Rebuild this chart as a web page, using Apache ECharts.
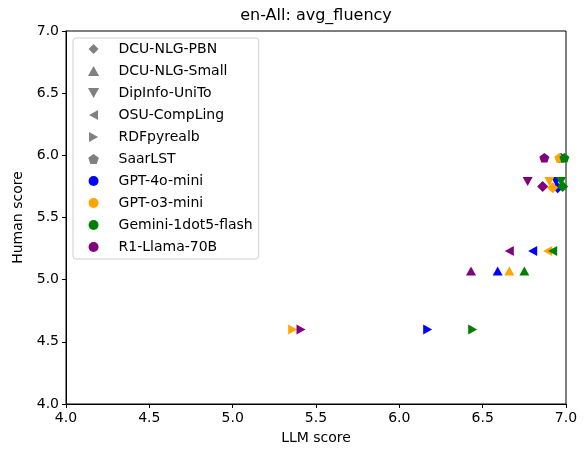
<!DOCTYPE html>
<html>
<head>
<meta charset="utf-8">
<script src="https://cdn.jsdelivr.net/npm/echarts@6/dist/echarts.min.js"></script>
<style>
  html, body { margin: 0; padding: 0; background: #fff; }
  #chart { width: 583px; height: 450px; }
</style>
</head>
<body>
<div id="chart"></div>
<script>
// Evaluator models (colour) and evaluated systems (marker shape)
const llmNames = ['GPT-4o-mini', 'GPT-o3-mini', 'Gemini-1dot5-flash', 'R1-Llama-70B'];
const systemNames = ['DCU-NLG-PBN', 'DCU-NLG-Small', 'DipInfo-UniTo', 'OSU-CompLing', 'RDFpyrealb', 'SaarLST'];

// LLM score / human score per system, in llmNames order
const pbnLLM     = [6.95, 6.92, 6.98, 6.86];
const pbnHuman   = [5.74, 5.74, 5.75, 5.75];
const smallLLM   = [6.59, 6.66, 6.75, 6.43];
const smallHuman = [5.07, 5.07, 5.07, 5.07];
const dipLLM     = [6.94, 6.90, 6.97, 6.77];
const dipHuman   = [5.79, 5.79, 5.79, 5.79];
const osuLLM     = [6.80, 6.89, 6.92, 6.66];
const osuHuman   = [5.23, 5.23, 5.23, 5.23];
const rdfLLM     = [6.17, 5.36, 6.44, 5.41];
const rdfHuman   = [4.60, 4.60, 4.60, 4.60];
const saarLLM    = [6.97, 6.96, 6.99, 6.87];
const saarHuman  = [5.98, 5.98, 5.98, 5.98];

const axisTicks = [4.0, 4.5, 5.0, 5.5, 6.0, 6.5, 7.0];

// Styling
const llmColors = ['#0000ff', '#ffa500', '#008000', '#800080'];
const gray = '#808080';
const shapes = {
  'DCU-NLG-PBN':   { symbol: 'path://M5,0 L10,5 L5,10 L0,5 Z', size: [11, 11], icon: [11, 11] },
  'DCU-NLG-Small': { symbol: 'path://M5,0 L10,9 L0,9 Z', size: [10, 9], icon: [10, 9] },
  'DipInfo-UniTo': { symbol: 'path://M0,0 L10,0 L5,9 Z', size: [10, 9], icon: [10, 9] },
  'OSU-CompLing':  { symbol: 'path://M9,0 L9,10 L0,5 Z', size: [9, 10], icon: [9, 10] },
  'RDFpyrealb':    { symbol: 'path://M0,0 L0,10 L9,5 Z', size: [9, 10], icon: [9, 10] },
  'SaarLST':       { symbol: 'path://M10,0 L19.51,6.91 L15.88,18.09 L4.12,18.09 L0.49,6.91 Z', size: [10, 9.5], icon: [9, 9] }
};
const systemData = {
  'DCU-NLG-PBN':   [pbnLLM, pbnHuman],
  'DCU-NLG-Small': [smallLLM, smallHuman],
  'DipInfo-UniTo': [dipLLM, dipHuman],
  'OSU-CompLing':  [osuLLM, osuHuman],
  'RDFpyrealb':    [rdfLLM, rdfHuman],
  'SaarLST':       [saarLLM, saarHuman]
};

const series = [];
systemNames.forEach(function (name) {
  const xs = systemData[name][0], ys = systemData[name][1];
  series.push({
    name: name,
    type: 'scatter',
    symbol: shapes[name].symbol,
    symbolSize: shapes[name].size,
    itemStyle: { color: gray, opacity: 1 },
    emphasis: { disabled: true },
    data: xs.map(function (x, i) {
      return { value: [x, ys[i]], itemStyle: { color: llmColors[i], opacity: 1 } };
    })
  });
});
llmNames.forEach(function (name, i) {
  series.push({
    name: name,
    type: 'scatter',
    symbol: 'circle',
    itemStyle: { color: llmColors[i], opacity: 1 },
    data: []
  });
});

const legendData = systemNames.map(function (n) {
  return { name: n, icon: shapes[n].symbol, itemStyle: { color: gray, opacity: 1 } };
}).concat(llmNames.map(function (n, i) {
  return { name: n, icon: 'circle', itemStyle: { color: llmColors[i], opacity: 1 } };
}));

const fontFamily = 'DejaVu Sans';
const chart = echarts.init(document.getElementById('chart'), null, { renderer: 'canvas' });
chart.setOption({
  animation: false,
  backgroundColor: '#fff',
  textStyle: { fontFamily: fontFamily },
  title: {
    text: 'en-All: avg_fluency',
    left: 316,
    textAlign: 'center',
    top: 8,
    padding: 0,
    textStyle: { fontFamily: fontFamily, fontSize: 16, fontWeight: 'normal', color: '#000' }
  },
  grid: {
    left: 66, right: 17, top: 31, bottom: 46,
    show: true, borderColor: '#000', borderWidth: 1, backgroundColor: 'transparent'
  },
  legend: {
    orient: 'vertical',
    left: 73,
    top: 38,
    padding: [4, 6, 5, 15],
    itemWidth: 40,
    itemHeight: 10,
    itemGap: 8,
    selectedMode: false,
    borderColor: '#d0d0d0',
    borderWidth: 1,
    borderRadius: 3,
    backgroundColor: 'rgba(255,255,255,0.8)',
    textStyle: { fontFamily: fontFamily, fontSize: 14, color: '#000' },
    data: legendData
  },
  xAxis: {
    type: 'value',
    min: axisTicks[0],
    max: axisTicks[axisTicks.length - 1],
    interval: 0.5,
    name: 'LLM score',
    nameLocation: 'middle',
    nameGap: 27,
    nameTextStyle: { fontFamily: fontFamily, fontSize: 14, color: '#000' },
    axisLine: { lineStyle: { color: '#000', width: 1 } },
    axisTick: { show: true, length: 4, lineStyle: { color: '#000' } },
    axisLabel: {
      margin: 7, fontSize: 14, color: '#000', fontFamily: fontFamily,
      formatter: function (v) { return v.toFixed(1); }
    },
    splitLine: { show: false }
  },
  yAxis: {
    type: 'value',
    min: axisTicks[0],
    max: axisTicks[axisTicks.length - 1],
    interval: 0.5,
    name: 'Human score',
    nameLocation: 'middle',
    nameGap: 38,
    nameTextStyle: { fontFamily: fontFamily, fontSize: 14, color: '#000' },
    axisLine: { show: true, lineStyle: { color: '#000', width: 1 } },
    axisTick: { show: true, length: 4, lineStyle: { color: '#000' } },
    axisLabel: {
      margin: 7, fontSize: 14, color: '#000', fontFamily: fontFamily,
      formatter: function (v) { return v.toFixed(1); }
    },
    splitLine: { show: false }
  },
  series: series
});
</script>
</body>
</html>
